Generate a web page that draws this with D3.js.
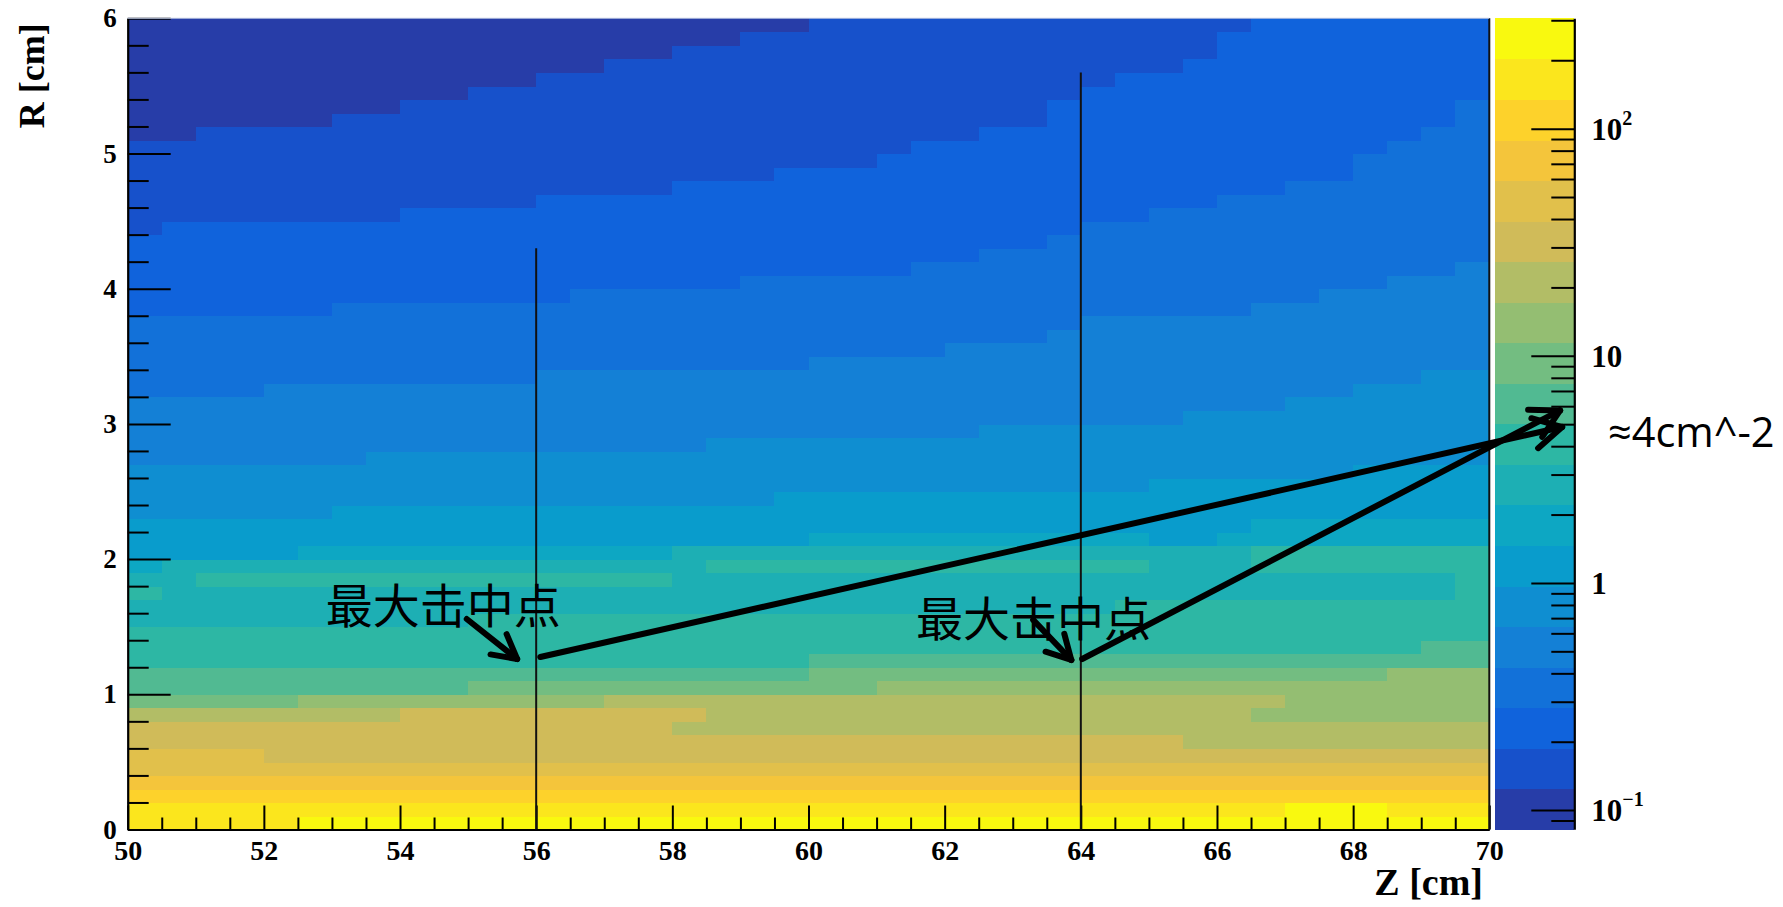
<!DOCTYPE html>
<html><head><meta charset="utf-8">
<script src="https://cdn.jsdelivr.net/npm/d3@7"></script>
<style>html,body{margin:0;padding:0;background:#fff}svg{display:block}</style>
</head><body>
<svg id="chart" width="1783" height="907"></svg>
<script>
// ---------------- data ----------------
const zRange = [50, 70];          // Z [cm]
const zBinWidth = 0.5;
const rRange = [0, 6];            // R [cm]
const rBinWidth = 0.1;
const zTicks = [50, 52, 54, 56, 58, 60, 62, 64, 66, 68, 70];
const rTicks = [0, 1, 2, 3, 4, 5, 6];
const colorMajorTicks = [0.1, 1, 10, 100];
const colorRange = [0.0824, 306];  // density range of the palette (cm^-2)
const nContours = 20;
// ROOT kBird palette stops
const paletteStops = [0, 0.125, 0.25, 0.375, 0.5, 0.625, 0.75, 0.875, 1];
const paletteRed   = [0.2082, 0.0592, 0.0780, 0.0232, 0.1802, 0.5301, 0.8186, 0.9956, 0.9764];
const paletteGreen = [0.1664, 0.3599, 0.5041, 0.6419, 0.7178, 0.7492, 0.7328, 0.7862, 0.9832];
const paletteBlue  = [0.5293, 0.8684, 0.8385, 0.7914, 0.6425, 0.4662, 0.3499, 0.1968, 0.0539];
// Contour band (0..19) of every cell.
// One entry per R bin (R = 0.0-0.1 first); each run = [Z where it starts, band].
const levelRuns = [
  [[50,18],[52.5,19]],
  [[50,18],[67,19],[68.5,18]],
  [[50,17]],
  [[50,16]],
  [[50,15]],
  [[50,15],[52,14]],
  [[50,14],[65.5,13]],
  [[50,14],[58,13]],
  [[50,13],[54,14],[58.5,13],[66.5,12]],
  [[50,11],[52.5,12],[57,13],[67,12]],
  [[50,10],[55,11],[61,12]],
  [[50,10],[60,11],[68.5,12]],
  [[50,9],[60,10]],
  [[50,9],[69,10]],
  [[50,9]],
  [[50,8],[55,9]],
  [[50,8],[64.5,9]],
  [[50,9],[50.5,8],[69.5,9]],
  [[50,8],[51,9],[58,8],[69.5,9]],
  [[50,7],[50.5,8],[58.5,9],[65,8],[66.5,9]],
  [[50,6],[52.5,7],[58,8],[66.5,9]],
  [[50,6],[60,7],[65,6],[66,7]],
  [[50,6],[66.5,7]],
  [[50,5],[53,6]],
  [[50,5],[59.5,6]],
  [[50,5],[65,6]],
  [[50,5],[68,6]],
  [[50,4],[53.5,5]],
  [[50,4],[58.5,5]],
  [[50,4],[62.5,5]],
  [[50,4],[65.5,5]],
  [[50,4],[67,5]],
  [[50,3],[52,4],[68,5]],
  [[50,3],[56,4],[69,5]],
  [[50,3],[60,4]],
  [[50,3],[62,4]],
  [[50,3],[63.5,4]],
  [[50,3],[64,4]],
  [[50,2],[53,3],[66.5,4]],
  [[50,2],[56.5,3],[67.5,4]],
  [[50,2],[59,3],[68.5,4]],
  [[50,2],[61.5,3],[69.5,4]],
  [[50,2],[62.5,3]],
  [[50,2],[63.5,3]],
  [[50,1],[50.5,2],[64,3]],
  [[50,1],[54,2],[65,3]],
  [[50,1],[56,2],[66,3]],
  [[50,1],[58,2],[67,3]],
  [[50,1],[59.5,2],[68,3]],
  [[50,1],[61,2],[68,3]],
  [[50,1],[61.5,2],[68.5,3]],
  [[50,0],[51,1],[62.5,2],[69,3]],
  [[50,0],[53,1],[63.5,2],[69.5,3]],
  [[50,0],[54,1],[63.5,2],[69.5,3]],
  [[50,0],[55,1],[64,2]],
  [[50,0],[56,1],[64.5,2]],
  [[50,0],[57,1],[65.5,2]],
  [[50,0],[58,1],[66,2]],
  [[50,0],[59,1],[66,2]],
  [[50,0],[60,1],[66.5,2]]
];
// markers (Z, R top) and annotations in data coordinates
const markerLines = [[56, 4.30], [64, 5.60]];
const bigArrows = [[[56.06, 1.276], [71.07, 2.977]], [[64.02, 1.261], [71.04, 3.10]]];
const smallArrows = [[[54.98, 1.557], [55.72, 1.261]], [[63.30, 1.550], [63.86, 1.254]]];
const labelTexts = [["最大击中点", 52.94, 1.653], ["最大击中点", 61.61, 1.553]];
const noteText = "≈4cm^-2";

// ---------------- layout ----------------
const svg = d3.select("#chart");
const x = d3.scaleLinear().domain(zRange).range([127.7, 1489.3]);
const y = d3.scaleLinear().domain(rRange).range([829.5, 18.3]);
const cb = d3.scaleLog().domain(colorRange).range([829.2, 18.3]);
const cbX0 = 1495, cbX1 = 1574.3;

const lmin = Math.log10(colorRange[0]), lmax = Math.log10(colorRange[1]);
const dl = (lmax - lmin) / nContours;
const bird = f => {
  const ch = arr => d3.scaleLinear().domain(paletteStops).range(arr).clamp(true)(f);
  return d3.rgb(ch(paletteRed) * 255, ch(paletteGreen) * 255, ch(paletteBlue) * 255);
};
const bandColors = d3.range(nContours).map(k => bird(Math.floor((k + 0.99) * 255 / nContours) / 255).formatHex());
const color = d3.scaleQuantize().domain([lmin, lmax]).range(bandColors);
const bandValue = k => Math.pow(10, lmin + (k + 0.5) * dl);

// cells
const cells = [];
levelRuns.forEach((runs, j) => {
  const r0 = rRange[0] + j * rBinWidth;
  runs.forEach((run, n) => {
    const zEnd = n + 1 < runs.length ? runs[n + 1][0] : zRange[1];
    for (let z = run[0]; z < zEnd - 1e-9; z += zBinWidth) {
      cells.push({ z0: z, r0: r0, value: bandValue(run[1]) });
    }
  });
});

svg.append("g").attr("shape-rendering", "crispEdges")
  .selectAll("rect").data(cells).join("rect")
  .attr("x", d => x(d.z0))
  .attr("y", d => y(d.r0 + rBinWidth))
  .attr("width", d => x(d.z0 + zBinWidth) - x(d.z0) + 0.6)
  .attr("height", d => y(d.r0) - y(d.r0 + rBinWidth) + 0.6)
  .attr("fill", d => color(Math.log10(d.value)));

// colour bar bands
const bandEdges = d3.range(nContours + 1).map(k => Math.pow(10, lmin + k * dl));
svg.append("g").attr("shape-rendering", "crispEdges")
  .selectAll("rect").data(d3.range(nContours)).join("rect")
  .attr("x", cbX0).attr("width", cbX1 - cbX0)
  .attr("y", k => cb(bandEdges[k + 1]))
  .attr("height", k => cb(bandEdges[k]) - cb(bandEdges[k + 1]) + 0.6)
  .attr("fill", k => color(Math.log10(bandValue(k))));

const axisFont = "'Liberation Serif','Times New Roman',serif";
function styleAxis(g, size) {
  g.attr("font-family", axisFont).attr("font-size", size).attr("font-weight", "bold");
  g.selectAll("line").attr("stroke", "#000").attr("stroke-width", 2);
  g.selectAll("path.domain").attr("stroke", "#000").attr("stroke-width", 2.2);
  g.selectAll("text").attr("fill", "#000");
}

// X axis
const zMinor = d3.range(zRange[0], zRange[1] + 0.001, 0.5).filter(v => !zTicks.includes(v));
const gxm = svg.append("g").attr("transform", `translate(0,${y(0)})`)
  .call(d3.axisBottom(x).tickValues(zMinor).tickSize(-12).tickSizeOuter(0).tickFormat(""));
gxm.select(".domain").remove(); styleAxis(gxm, 28);
const gx = svg.append("g").attr("transform", `translate(0,${y(0)})`)
  .call(d3.axisBottom(x).tickValues(zTicks).tickSize(-24).tickSizeOuter(0).tickPadding(11).tickFormat(d3.format("d")));
styleAxis(gx, 28);

// Y axis
const rMinor = d3.range(0, 6.001, 0.2).map(v => +v.toFixed(1)).filter(v => !rTicks.includes(v));
const gym = svg.append("g").attr("transform", `translate(${x(zRange[0])},0)`)
  .call(d3.axisLeft(y).tickValues(rMinor).tickSize(-21).tickSizeOuter(0).tickFormat(""));
gym.select(".domain").remove(); styleAxis(gym, 27);
const gy = svg.append("g").attr("transform", `translate(${x(zRange[0])},0)`)
  .call(d3.axisLeft(y).tickValues(rTicks).tickSize(-43).tickSizeOuter(0).tickPadding(11).tickFormat(d3.format("d")));
styleAxis(gy, 27);

// right frame edge and faint top edge
svg.append("line").attr("x1", x(70)).attr("x2", x(70)).attr("y1", y(6)).attr("y2", y(0))
  .attr("stroke", "#111").attr("stroke-width", 2);
svg.append("line").attr("x1", x(50)).attr("x2", x(70)).attr("y1", y(6)).attr("y2", y(6))
  .attr("stroke", "#b8c4e0").attr("stroke-width", 1);

// colour bar axis
const cMinor = [];
[0.01, 0.1, 1, 10, 100].forEach(dec => d3.range(2, 10).forEach(m => {
  const v = +(dec * m).toPrecision(3);
  if (v >= colorRange[0] && v <= colorRange[1]) cMinor.push(v);
}));
const gcm = svg.append("g").attr("transform", `translate(${cbX1},0)`)
  .call(d3.axisRight(cb).tickValues(cMinor).tickSize(-23).tickSizeOuter(0).tickFormat(""));
gcm.select(".domain").remove(); styleAxis(gcm, 31);
const gc = svg.append("g").attr("transform", `translate(${cbX1},0)`)
  .call(d3.axisRight(cb).tickValues(colorMajorTicks).tickSize(-43).tickSizeOuter(0).tickFormat(""));
styleAxis(gc, 31);
const cLabels = svg.append("g").attr("font-family", axisFont).attr("font-weight", "bold").attr("fill", "#000");
colorMajorTicks.forEach(v => {
  const e = Math.round(Math.log10(v));
  const t = cLabels.append("text").attr("x", cbX1 + 17).attr("y", cb(v)).attr("dy", "0.36em").attr("font-size", 31);
  if (e === 0) t.text("1");
  else if (e === 1) t.text("10");
  else {
    t.append("tspan").text("10");
    t.append("tspan").attr("font-size", 20).attr("dy", "-0.75em").text(e < 0 ? "\u2212" + (-e) : String(e));
  }
});

// axis titles
svg.append("text").attr("transform", `translate(44,${y(6) + 5}) rotate(-90)`)
  .attr("text-anchor", "end").attr("font-family", axisFont).attr("font-weight", "bold")
  .attr("font-size", 36).text("R [cm]");
svg.append("text").attr("x", 1483).attr("y", 895)
  .attr("text-anchor", "end").attr("font-family", axisFont).attr("font-weight", "bold")
  .attr("font-size", 38).text("Z [cm]");

// marker lines
svg.append("g").selectAll("line").data(markerLines).join("line")
  .attr("x1", d => x(d[0])).attr("x2", d => x(d[0]))
  .attr("y1", y(0)).attr("y2", d => y(d[1]))
  .attr("stroke", "#111").attr("stroke-width", 2);

// annotation arrows
function arrow(g, a, b, headLen, headAng) {
  const p0 = [x(a[0]), y(a[1])], p1 = [x(b[0]), y(b[1])];
  const ang = Math.atan2(p1[1] - p0[1], p1[0] - p0[0]);
  g.append("line").attr("x1", p0[0]).attr("y1", p0[1]).attr("x2", p1[0]).attr("y2", p1[1]);
  [-1, 1].forEach(s => {
    const w = ang + Math.PI + s * headAng;
    g.append("line").attr("x1", p1[0]).attr("y1", p1[1])
      .attr("x2", p1[0] + headLen * Math.cos(w)).attr("y2", p1[1] + headLen * Math.sin(w));
  });
}
const ga = svg.append("g").attr("stroke", "#000").attr("stroke-linecap", "round");
const gBig = ga.append("g").attr("stroke-width", 6);
bigArrows.forEach(a => arrow(gBig, a[0], a[1], 32, 0.5));
const gSmall = ga.append("g").attr("stroke-width", 6);
smallArrows.forEach(a => arrow(gSmall, a[0], a[1], 27, 0.5));

// annotation text
svg.append("g").selectAll("text").data(labelTexts).join("text")
  .attr("x", d => x(d[1]) - 2).attr("y", d => y(d[2]))
  .attr("dy", "0.36em")
  .attr("font-family", "'Noto Sans CJK SC','Noto Sans CJK JP',sans-serif")
  .attr("font-size", 47).attr("font-weight", 400).attr("fill", "#000").text(d => d[0]);
svg.append("text").attr("x", 1608).attr("y", 446.7)
  .attr("font-family", "'Open Sans','Noto Sans',sans-serif").attr("font-size", 41.5)
  .attr("fill", "#000").text(noteText);
</script>
</body></html>
